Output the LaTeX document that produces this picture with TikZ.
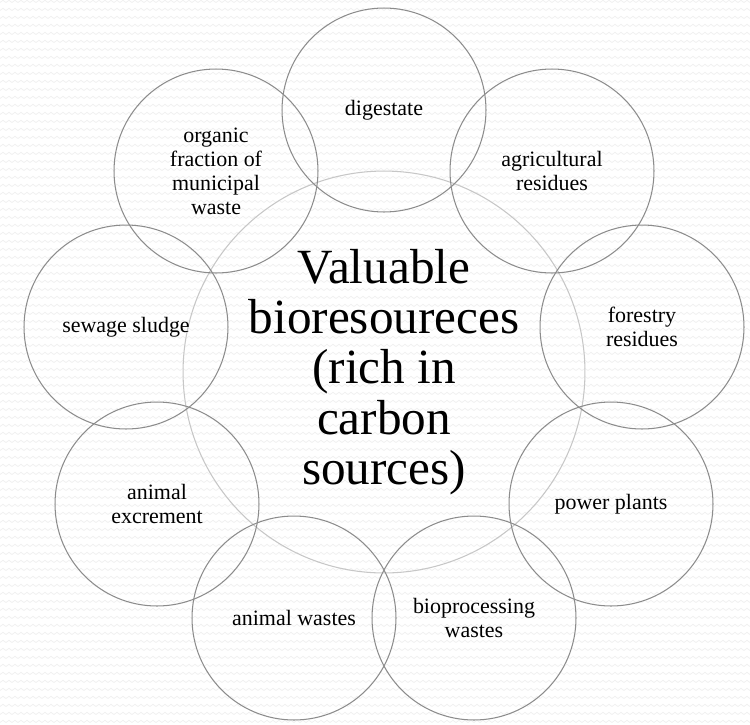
\documentclass[tikz,border=0pt]{standalone}
\usepackage{fontspec}
\setmainfont{Liberation Serif}
\usetikzlibrary{patterns}

% faint zigzag texture for the page background
\pgfdeclarepatternformonly{zigzagbg}{\pgfpointorigin}{\pgfpoint{3.4pt}{4.7pt}}{\pgfpoint{3.4pt}{4.7pt}}{%
  \pgfsetlinewidth{0.45pt}%
  \pgfpathmoveto{\pgfpoint{-0.2pt}{1.4pt}}%
  \pgfpathlineto{\pgfpoint{1.7pt}{2.9pt}}%
  \pgfpathlineto{\pgfpoint{3.6pt}{1.4pt}}%
  \pgfusepath{stroke}}

\tikzset{
  source/.style={circle, draw=black!45, line width=0.6pt, minimum size=4.08cm,
    inner sep=0pt, align=center, text=black, font=\fontsize{12.5}{13.7}\selectfont},
  hub/.style={circle, draw=black!22, line width=0.6pt, minimum size=8.04cm,
    inner sep=0pt, align=center, text=black, font=\fontsize{28}{28.6}\selectfont}
}

\begin{document}
\begin{tikzpicture}[x=0.02cm, y=-0.02cm]
  \useasboundingbox (0,0) rectangle (750,724);
  \fill[white] (0,0) rectangle (750,724);
  \fill[pattern=zigzagbg, pattern color=black!6] (0,0) rectangle (750,724);

  % central resource circle
  \node[hub] (hub) at (384,372) {Valuable\\bioresoureces\\(rich in\\carbon\\sources)};

  % ring of nine source circles, 40 degrees apart
  \node[source] (dig) at (384,110) {digestate};
  \node[source] (agr) at (552,171) {agricultural\\residues};
  \node[source] (for) at (642,327) {forestry\\residues};
  \node[source] (pow) at (611,504) {power plants};
  \node[source] (bio) at (474,618) {bioprocessing\\wastes};
  \node[source] (anw) at (294,618) {animal wastes};
  \node[source] (exc) at (157,504) {animal\\excrement};
  \node[source] (sew) at (126,327) {sewage sludge};
  \node[source] (ofm) at (216,171) {organic\\fraction of\\municipal\\waste};
\end{tikzpicture}
\end{document}
